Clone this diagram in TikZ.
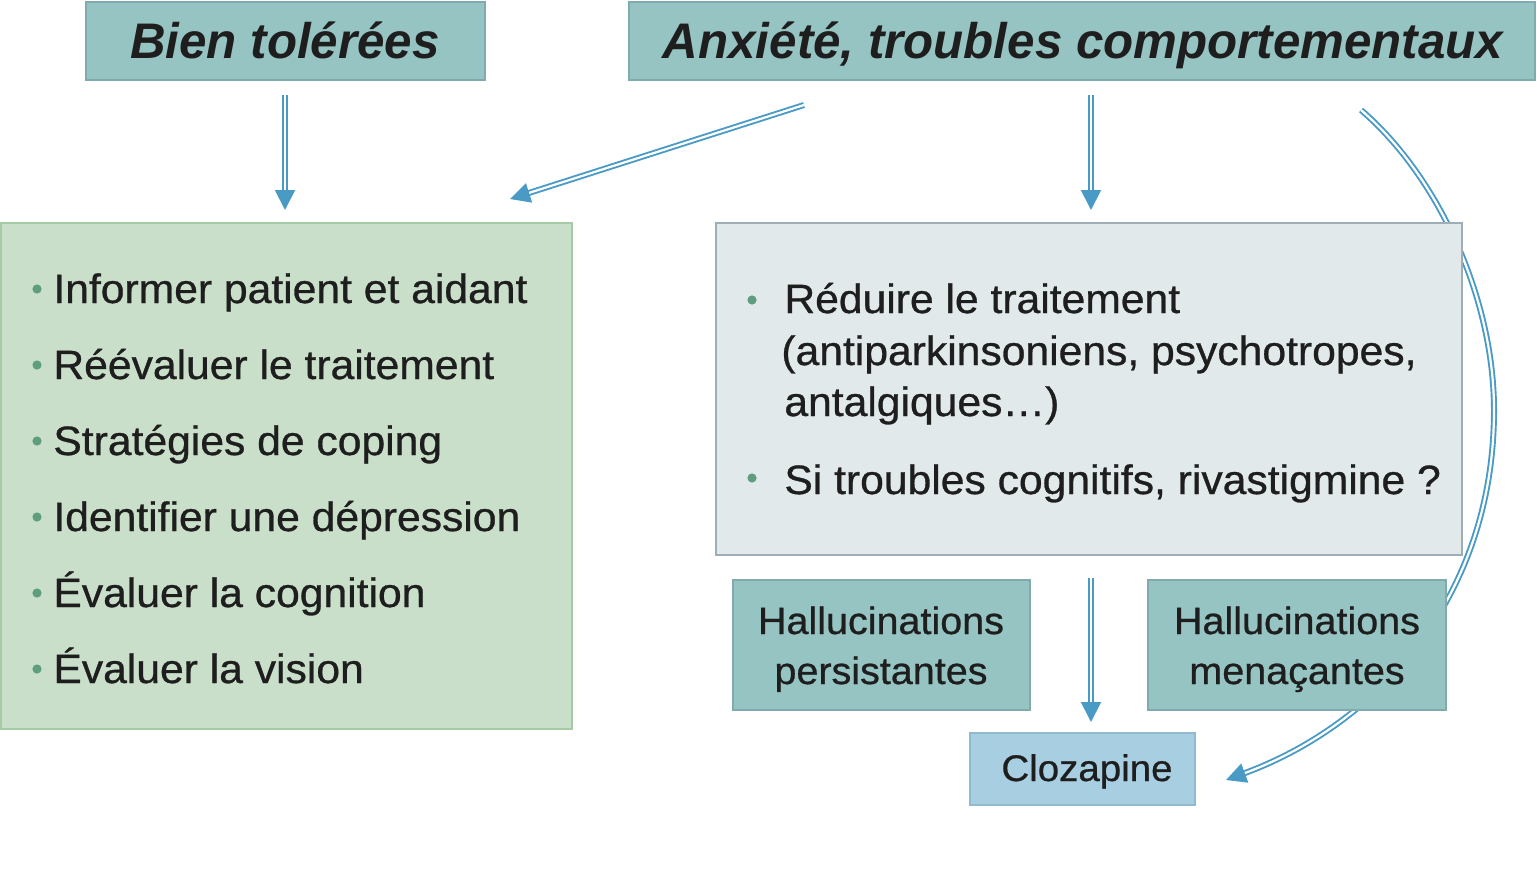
\documentclass[tikz,border=0pt]{standalone}
\usepackage{fontspec}
\setmainfont[FakeStretch=1.04,FakeBold=0.7]{Liberation Sans}
\newfontfamily\hdfont[FakeStretch=0.985]{Liberation Sans}
\usetikzlibrary{arrows.meta,fit}
\definecolor{hdrfill}{HTML}{95C4C2}
\definecolor{hdrdraw}{HTML}{7FAAAE}
\definecolor{grnfill}{HTML}{C9DFC9}
\definecolor{grndraw}{HTML}{A6CAA6}
\definecolor{gryfill}{HTML}{E1E9EB}
\definecolor{grydraw}{HTML}{9FADB7}
\definecolor{clzfill}{HTML}{A8CFE1}
\definecolor{clzdraw}{HTML}{90BBCE}
\definecolor{arrowblue}{HTML}{4A9AC6}
\definecolor{bulcol}{HTML}{5E9E7E}
\definecolor{txtcol}{HTML}{1E1E1E}
\begin{document}
\begin{tikzpicture}[x=0.5pt,y=-0.5pt,
  box/.style={draw, line width=0.75pt, inner sep=0pt},
  hdr/.style={box, fill=hdrfill, draw=hdrdraw},
  grnbox/.style={box, fill=grnfill, draw=grndraw},
  grybox/.style={box, fill=gryfill, draw=grydraw},
  clzbox/.style={box, fill=clzfill, draw=clzdraw},
  txt/.style={anchor=base west, inner sep=0pt, text=txtcol, font=\fontsize{20.5}{24}\selectfont},
  ctxt/.style={anchor=base, inner sep=0pt, text=txtcol, font=\fontsize{19}{24}\selectfont},
  htxt/.style={anchor=base, inner sep=0pt, text=txtcol, font=\hdfont\bfseries\itshape\fontsize{25}{30}\selectfont},
  dbl/.style={draw=arrowblue, line width=0.95pt, double=white, double distance=1.1pt, -{Triangle[length=10pt,width=10pt]}},
  bul/.style={fill=bulcol}
]
\useasboundingbox (0,0) rectangle (1537,889);

% curved arrow (behind boxes)
\coordinate (c0) at (1361,110);
\coordinate (c1) at (1494,410);
\coordinate (c2) at (1226,780);
\draw[dbl] (c0) .. controls (1440,178) and (1494,300) .. (c1) .. controls (1494,600) and (1375,725) .. (c2);

% boxes
\node[hdr, fit={(86,2) (485,80)}] (bien) {};
\node[hdr, fit={(629,2) (1535,80)}] (anx) {};
\node[grnbox, fit={(1,223) (572,729)}] (left) {};
\node[grybox, fit={(716,223) (1462,555)}] (right) {};
\node[hdr, fit={(733,580) (1030,710)}] (pers) {};
\node[hdr, fit={(1148,580) (1446,710)}] (men) {};
\node[clzbox, fit={(970,733) (1195,805)}] (cloz) {};

% header texts
\node[htxt] (bient) at (285,58) {Bien tolérées};
\node[htxt] (anxt) at (1083,58) {Anxiété, troubles comportementaux};

% left list
\node[txt] (l1) at (53,303) {Informer patient et aidant};
\node[txt] (l2) at (53,379) {Réévaluer le traitement};
\node[txt] (l3) at (53,455) {Stratégies de coping};
\node[txt] (l4) at (53,531) {Identifier une dépression};
\node[txt] (l5) at (53,607) {Évaluer la cognition};
\node[txt] (l6) at (53,683) {Évaluer la vision};
\foreach \yy in {289,365,441,517,593,669} \fill[bul] (37,\yy) circle (2.3pt);

% right list
\node[txt] (r1) at (784,313) {Réduire le traitement};
\node[txt] (r2) at (781,365) {(antiparkinsoniens, psychotropes,};
\node[txt] (r3) at (784,416) {antalgiques…)};
\node[txt] (r4) at (784,494) {Si troubles cognitifs, rivastigmine~?};
\fill[bul] (752,300) circle (2.3pt);
\fill[bul] (752,478) circle (2.3pt);

% small boxes texts
\node[ctxt] (p1) at (881,634) {Hallucinations};
\node[ctxt] (p2) at (881,684) {persistantes};
\node[ctxt] (m1) at (1297,634) {Hallucinations};
\node[ctxt] (m2) at (1297,684) {menaçantes};
\node[ctxt, font=\fontsize{18.5}{22}\selectfont] (clt) at (1087,781) {Clozapine};

% straight arrows
\coordinate (v1s) at (285,95);
\coordinate (v1e) at (285,210);
\coordinate (d0) at (804,105);
\coordinate (d1) at (510,199);
\coordinate (v2s) at (1091,95);
\coordinate (v2e) at (1091,210);
\coordinate (v3s) at (1091,578);
\coordinate (v3e) at (1091,722);
\draw[dbl] (v1s) -- (v1e);
\draw[dbl] (d0) -- (d1);
\draw[dbl] (v2s) -- (v2e);
\draw[dbl] (v3s) -- (v3e);
\end{tikzpicture}
\end{document}
